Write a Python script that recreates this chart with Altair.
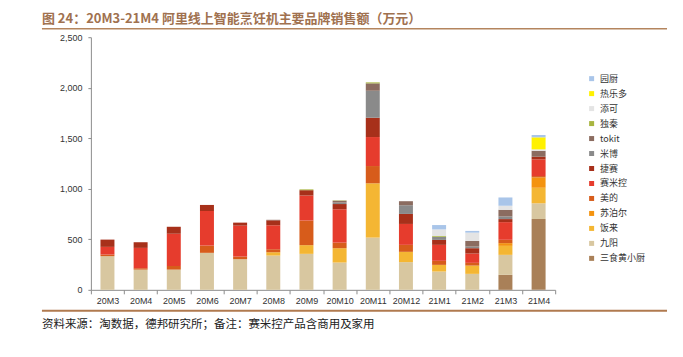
import altair as alt
import pandas as pd

months = ["20M3", "20M4", "20M5", "20M6", "20M7", "20M8", "20M9", "20M10",
          "20M11", "20M12", "21M1", "21M2", "21M3", "21M4"]

# bottom -> top stacking order
brands = ["三食黄小厨", "九阳", "饭来", "苏泊尔", "美的", "赛米控", "捷赛",
          "米博", "tokit", "独秦", "添可", "热乐多", "园厨"]

v_sanshi = [0, 0, 0, 0, 0, 0, 0, 0, 0, 0, 0, 0, 148, 701]
v_jiuyang = [333, 200, 200, 366, 303, 339, 356, 270, 517, 274, 181, 158, 198, 155]
v_fanlai = [0, 0, 0, 0, 0, 33, 86, 142, 537, 102, 66, 82, 89, 154]
v_supor = [0, 0, 0, 0, 0, 0, 0, 0, 0, 0, 0, 0, 27, 103]
v_midea = [16, 14, 36, 72, 26, 30, 244, 55, 171, 69, 40, 27, 33, 13]
v_saimikong = [76, 201, 319, 342, 306, 237, 247, 330, 287, 207, 158, 92, 175, 165]
v_jiesai = [72, 56, 69, 60, 30, 49, 53, 52, 191, 99, 49, 53, 30, 26]
v_mibo = [0, 0, 0, 0, 0, 0, 0, 15, 267, 86, 30, 16, 26, 0]
v_tokit = [0, 0, 0, 0, 0, 5, 0, 18, 73, 40, 0, 56, 66, 59]
v_duqin = [0, 0, 0, 0, 0, 0, 8, 3, 10, 0, 8, 0, 0, 0]
v_tianke = [0, 0, 0, 0, 0, 0, 0, 0, 0, 0, 66, 82, 40, 14]
v_relduo = [0, 0, 0, 0, 0, 0, 0, 0, 0, 0, 0, 0, 0, 119]
v_yuanchu = [0, 0, 0, 0, 0, 0, 0, 0, 0, 0, 43, 17, 82, 23]

series = [v_sanshi, v_jiuyang, v_fanlai, v_supor, v_midea, v_saimikong, v_jiesai,
          v_mibo, v_tokit, v_duqin, v_tianke, v_relduo, v_yuanchu]

colors = ["#a98058", "#d8c7a0", "#f4b633", "#f4930f", "#d75c1b", "#e63c2d", "#a7301a",
          "#8a8a8a", "#8b6c60", "#a8b540", "#e4e4e4", "#fff100", "#a9c5e9"]

y_ticks = [0, 500, 1000, 1500, 2000, 2500]

rows = []
for i, (b, vals) in enumerate(zip(brands, series)):
    for m, v in zip(months, vals):
        rows.append({"month": m, "brand": b, "value": v, "idx": i})
df = pd.DataFrame(rows)

legend_order = brands[::-1]
legend_colors = colors[::-1]

FONT_CJK = "Noto Sans CJK SC"
FONT_LAT = "Liberation Sans"

bars = alt.Chart(df).mark_bar(size=14).encode(
    x=alt.X("month:N", sort=months, title=None,
            scale=alt.Scale(paddingInner=0, paddingOuter=0),
            axis=alt.Axis(labelAngle=0, tickBand="extent", tickSize=4,
                          labelPadding=3, labelFontSize=9, labelFont=FONT_LAT,
                          labelColor="#333333", domainColor="#8c8c8c",
                          tickColor="#8c8c8c")),
    y=alt.Y("value:Q", stack="zero", title=None,
            scale=alt.Scale(domain=[0, 2500], nice=False),
            axis=alt.Axis(values=y_ticks, format=",.0f",
                          grid=False, tickSize=3, labelPadding=6, labelFontSize=9,
                          labelFont=FONT_LAT, labelColor="#333333",
                          domainColor="#8c8c8c", tickColor="#8c8c8c")),
    color=alt.Color("brand:N", title=None,
                    scale=alt.Scale(domain=legend_order, range=legend_colors),
                    legend=alt.Legend(orient="none", legendX=497, legendY=37,
                                      symbolType="square", symbolSize=25,
                                      symbolStrokeWidth=0, labelFontSize=9,
                                      labelFont=FONT_CJK, labelColor="#333333",
                                      rowPadding=5, labelOffset=4)),
    order=alt.Order("idx:Q", sort="ascending"),
)

one = alt.Data(values=[{}])

title = alt.Chart(one).mark_text(
    text="图 24：20M3-21M4 阿里线上智能烹饪机主要品牌销售额（万元）",
    align="left", baseline="middle", font=FONT_CJK, fontSize=13,
    fontWeight="bold", color="#a0714f"
).encode(x=alt.value(-49), y=alt.value(-18.5))

top_line = alt.Chart(one).mark_rule(color="#b4855e", strokeWidth=1.5).encode(
    x=alt.value(-49), x2=alt.value(577), y=alt.value(-8.5))

bottom_line = alt.Chart(one).mark_rule(color="#b07a4f", strokeWidth=2).encode(
    x=alt.value(-49), x2=alt.value(577), y=alt.value(274))

source = alt.Chart(one).mark_text(
    text="资料来源：淘数据，德邦研究所；备注：赛米控产品含商用及家用",
    align="left", baseline="middle", font=FONT_CJK, fontSize=11.5,
    color="#222222"
).encode(x=alt.value(-49), y=alt.value(288))

chart = alt.layer(bars, title, top_line, bottom_line, source).properties(
    width=465, height=253,
    autosize=alt.AutoSizeParams(type="none"),
    padding={"left": 83, "top": 29, "right": 120, "bottom": 50},
).configure_view(stroke=None)

chart.save("out.html", embed_options={"renderer": "svg", "actions": False})
